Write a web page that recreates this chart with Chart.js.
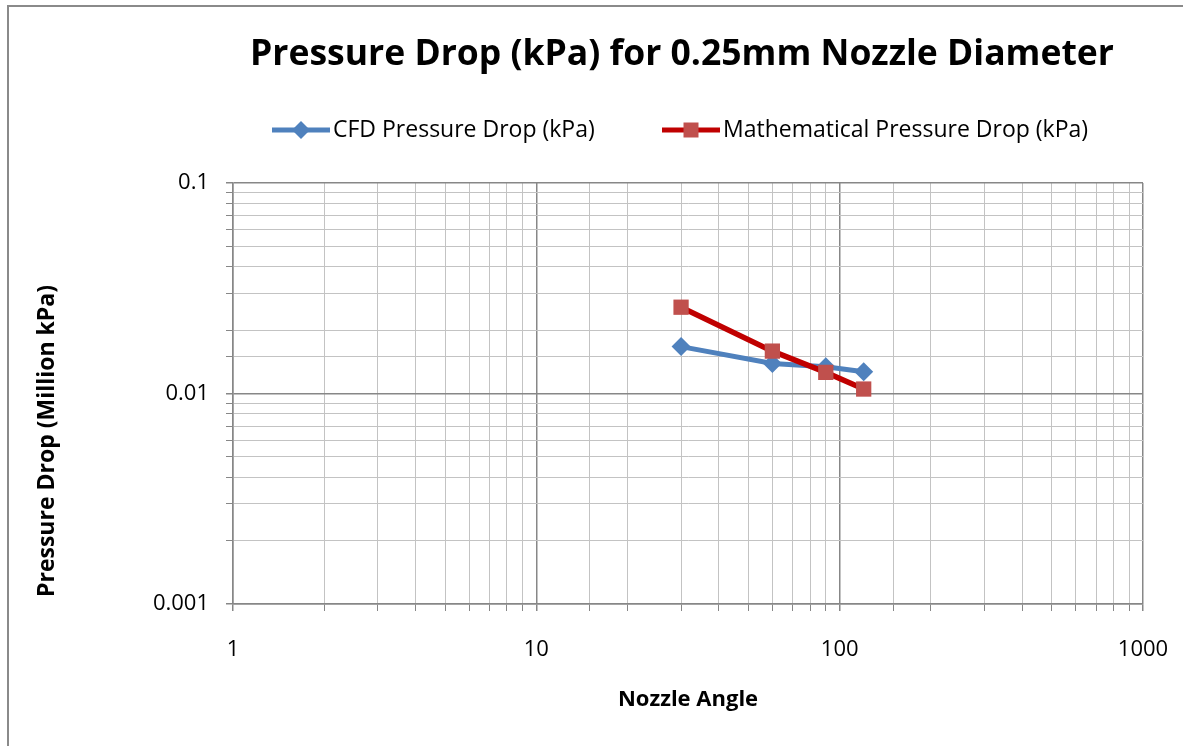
<!DOCTYPE html>
<html>
<head>
<meta charset="utf-8">
<script src="https://cdn.jsdelivr.net/npm/chart.js@4"></script>
<style>
  html, body { margin: 0; padding: 0; background: #fff; }
  #wrap { position: absolute; left: 0; top: 0; width: 1183px; height: 746px; }
</style>
</head>
<body>
<div id="wrap"><canvas id="chart" width="1183" height="746"></canvas></div>
<script>
const chartTitle = 'Pressure Drop (kPa) for 0.25mm Nozzle Diameter';
const xAxisTitle = 'Nozzle Angle';
const yAxisTitle = 'Pressure Drop (Million kPa)';
const seriesNames = ['CFD Pressure Drop (kPa)', 'Mathematical Pressure Drop (kPa)'];
const nozzleAngles = [30, 60, 90, 120];
const cfdDrop = [0.0167, 0.0139, 0.0134, 0.0127];
const mathDrop = [0.0257, 0.0159, 0.0126, 0.0105];
const xTickLabels = ['1', '10', '100', '1000'];
const yTickLabels = ['0.001', '0.01', '0.1'];

const FONT = '"Open Sans", "Liberation Sans", sans-serif';
const BLUE = '#4f81bd';
const RED = '#c00000';
const RED_MARK = '#c0504d';
const MAJOR = '#878787';
const MINOR = '#c3c3c3';

function decadeLabel(labels, v) {
    const hit = labels.find(l => Math.abs(Math.log10(parseFloat(l)) - Math.log10(v)) < 1e-6);
    return hit || '';
}

const isMajor = ctx => ctx.tick && decadeLabel(ctx.scale.axis === 'x' ? xTickLabels : yTickLabels, ctx.tick.value) !== '';

// title, legend, axis titles and the outer frame
const decorations = {
    id: 'decorations',
    afterDraw(chart) {
        const ctx = chart.ctx;
        ctx.save();

        ctx.strokeStyle = '#8a8a8a';
        ctx.lineWidth = 2;
        ctx.strokeRect(8, 6, 1300, 1000);

        ctx.fillStyle = '#000';
        ctx.textBaseline = 'middle';
        ctx.textAlign = 'center';
        ctx.font = 'bold 35.5px ' + FONT;
        ctx.fillText(chartTitle, 682, 55);

        ctx.font = 'bold 22px ' + FONT;
        ctx.fillText(xAxisTitle, 688, 700);
        ctx.font = 'bold 23px ' + FONT;
        ctx.save();
        ctx.translate(47, 441);
        ctx.rotate(-Math.PI / 2);
        ctx.fillText(yAxisTitle, 0, 0);
        ctx.restore();

        // legend
        const items = [
            { x: 272, color: BLUE, mark: BLUE, style: 'diamond', text: seriesNames[0] },
            { x: 662, color: RED, mark: RED_MARK, style: 'square', text: seriesNames[1] }
        ];
        ctx.font = '23px ' + FONT;
        ctx.textAlign = 'left';
        items.forEach(it => {
            const y = 130;
            ctx.strokeStyle = it.color;
            ctx.lineWidth = 5;
            ctx.beginPath();
            ctx.moveTo(it.x, y);
            ctx.lineTo(it.x + 58, y);
            ctx.stroke();
            ctx.fillStyle = it.mark;
            const cx = it.x + 29;
            ctx.beginPath();
            if (it.style === 'diamond') {
                ctx.moveTo(cx, y - 9);
                ctx.lineTo(cx + 9, y);
                ctx.lineTo(cx, y + 9);
                ctx.lineTo(cx - 9, y);
                ctx.closePath();
            } else {
                ctx.rect(cx - 7.5, y - 7.5, 15, 15);
            }
            ctx.fill();
            ctx.fillStyle = '#000';
            ctx.fillText(it.text, it.x + 61, y);
        });
        ctx.restore();
    }
};

const ctx = document.getElementById('chart').getContext('2d');

new Chart(ctx, {
    type: 'scatter',
    data: {
        datasets: [{
            label: seriesNames[0],
            data: nozzleAngles.map((x, i) => ({ x, y: cfdDrop[i] })),
            showLine: true,
            borderColor: BLUE,
            borderWidth: 5,
            backgroundColor: BLUE,
            pointStyle: 'rectRot',
            pointRadius: 9.5,
            pointBorderWidth: 0,
            pointBorderColor: BLUE,
            order: 1
        }, {
            label: seriesNames[1],
            data: nozzleAngles.map((x, i) => ({ x, y: mathDrop[i] })),
            showLine: true,
            borderColor: RED,
            borderWidth: 5.5,
            backgroundColor: RED_MARK,
            pointStyle: 'rect',
            pointRadius: 10.8,
            pointBorderWidth: 0,
            pointBorderColor: RED_MARK,
            order: 0
        }]
    },
    options: {
        responsive: false,
        animation: false,
        layout: { padding: { top: 183, right: 40, left: 0, bottom: 0 } },
        plugins: {
            legend: { display: false },
            title: { display: false },
            tooltip: { enabled: false }
        },
        scales: {
            x: {
                type: 'logarithmic',
                min: 1,
                max: 1000,
                afterFit: scale => {
                    scale.height = 142;
                    scale.paddingLeft = 0;
                    scale.paddingRight = 0;
                },
                grid: {
                    color: c => isMajor(c) ? MAJOR : MINOR,
                    lineWidth: c => isMajor(c) ? 1.5 : 1,
                    tickColor: MAJOR,
                    tickLength: 7
                },
                border: { color: MAJOR, width: 1.5 },
                ticks: {
                    autoSkip: false,
                    maxRotation: 0,
                    padding: 26,
                    color: '#000',
                    font: { family: FONT, size: 22 },
                    callback: v => decadeLabel(xTickLabels, v)
                }
            },
            y: {
                type: 'logarithmic',
                min: 0.001,
                max: 0.1,
                afterFit: scale => { scale.width = 233; },
                grid: {
                    color: c => isMajor(c) ? MAJOR : MINOR,
                    lineWidth: c => isMajor(c) ? 1.5 : 1,
                    tickColor: MAJOR,
                    tickLength: 7
                },
                border: { color: MAJOR, width: 1.5 },
                ticks: {
                    autoSkip: false,
                    padding: 17,
                    color: '#000',
                    font: { family: FONT, size: 22 },
                    callback: v => decadeLabel(yTickLabels, v)
                }
            }
        }
    },
    plugins: [decorations]
});
</script>
</body>
</html>
